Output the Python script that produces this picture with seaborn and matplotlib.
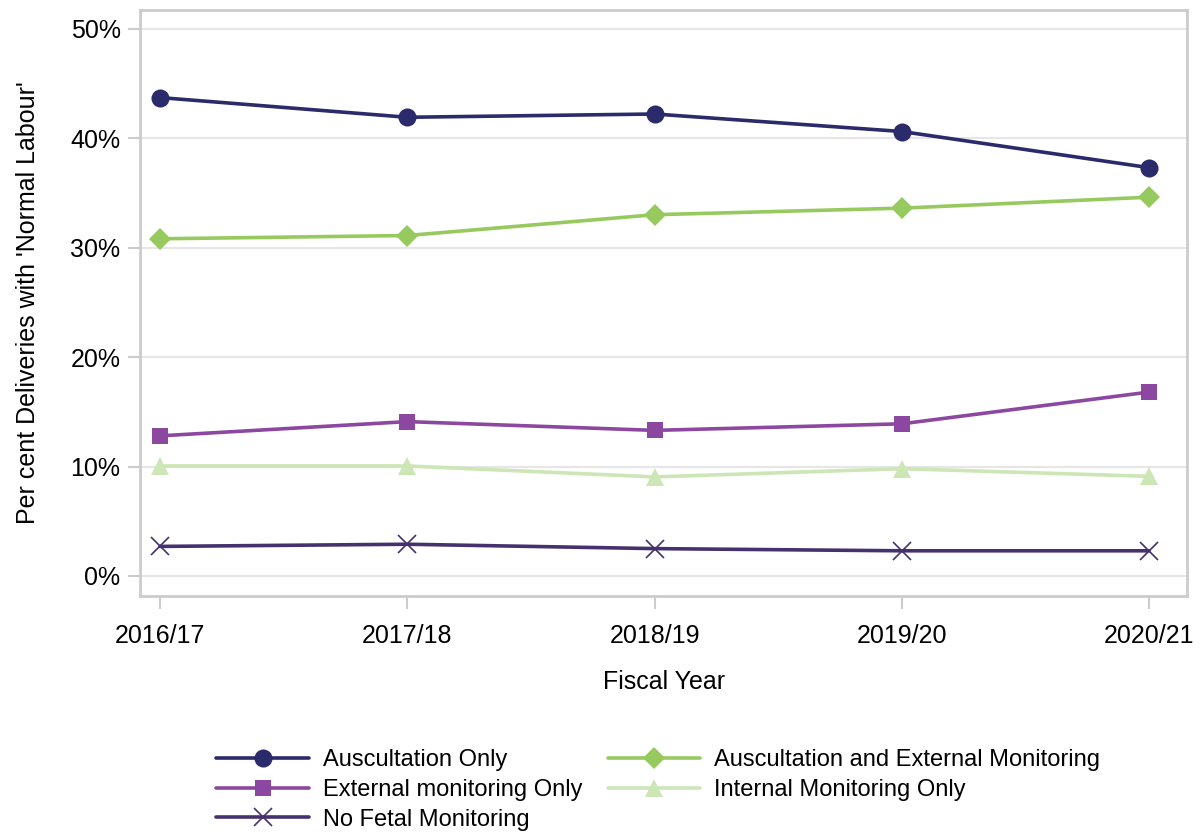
import matplotlib
matplotlib.use("Agg")
import matplotlib.pyplot as plt
import seaborn as sns
import pandas as pd
from matplotlib.ticker import FuncFormatter

years = ["2016/17", "2017/18", "2018/19", "2019/20", "2020/21"]
auscultation_only = [43.7, 41.9, 42.2, 40.6, 37.3]
ausc_and_external = [30.8, 31.1, 33.0, 33.6, 34.6]
external_only = [12.8, 14.1, 13.3, 13.9, 16.8]
internal_only = [10.05, 10.05, 9.05, 9.8, 9.1]
no_fetal = [2.7, 2.9, 2.5, 2.3, 2.3]

series = [
    ("Auscultation Only", auscultation_only, "#2B2A6B", "o", 13),
    ("External monitoring Only", external_only, "#8C48A0", "s", 11.5),
    ("No Fetal Monitoring", no_fetal, "#45316E", "x", 13),
    ("Auscultation and External Monitoring", ausc_and_external, "#97CA5E", "D", 11),
    ("Internal Monitoring Only", internal_only, "#CDE6B5", "^", 13),
]

sns.set_theme(style="white")
plt.rcParams["font.family"] = ["Liberation Sans", "DejaVu Sans"]
plt.rcParams["text.color"] = "black"
plt.rcParams["axes.labelcolor"] = "black"

fig = plt.figure(figsize=(12.04, 8.33), dpi=100)
ax = fig.add_axes([0.1163, 0.2845, 0.8697, 0.7035])

xpos = list(range(len(years)))
for name, vals, color, marker, ms in series:
    df = pd.DataFrame({"x": xpos, "y": vals})
    if marker == "x":
        kw = dict(markeredgewidth=1.2, markeredgecolor=color)
    else:
        kw = dict(markeredgewidth=0)
    sns.lineplot(data=df, x="x", y="y", ax=ax, color=color, marker=marker,
                 markersize=ms, linewidth=2.6, label=name, **kw)

ax.set_xlim(-0.081, 4.154)
ax.set_ylim(-1.83, 51.7)
ax.set_xticks(xpos)
ax.set_xticklabels(years)
ax.set_yticks([0, 10, 20, 30, 40, 50])
ax.yaxis.set_major_formatter(FuncFormatter(lambda v, p: f"{v:.0f}%"))
ax.grid(axis="y", color="#E6E6E6", linewidth=1.5)
ax.set_axisbelow(True)
for s in ax.spines.values():
    s.set_color("#CCCCCC")
    s.set_linewidth(2)
ax.tick_params(axis="both", which="major", labelsize=18, colors="#CCCCCC",
               labelcolor="black", length=9, width=1.5, direction="out",
               bottom=True, left=True, pad=5)
ax.tick_params(axis="x", pad=11)
ax.set_xlabel("Fiscal Year", fontsize=18, labelpad=16)
ax.set_ylabel("Per cent Deliveries with 'Normal Labour'", fontsize=18, labelpad=22)

handles, labels = ax.get_legend_handles_labels()
ax.legend(handles, labels, ncol=2, loc="upper left", bbox_to_anchor=(0.064, -0.245),
          frameon=False, fontsize=17, handlelength=3.9, labelspacing=0.33,
          columnspacing=1.1, handletextpad=0.6, borderaxespad=0)

fig.savefig("out.png", dpi=100)
